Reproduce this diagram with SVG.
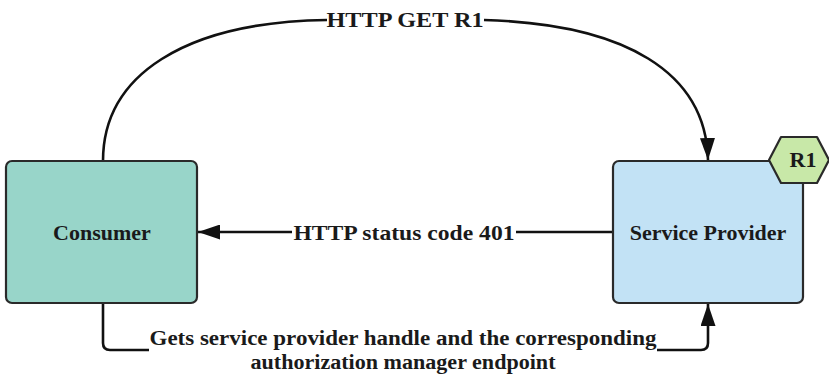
<svg xmlns="http://www.w3.org/2000/svg" width="829" height="376" viewBox="0 0 829 376">
<defs>
<marker id="arr" viewBox="0 0 22 15" refX="22" refY="7.5" markerWidth="22" markerHeight="15" markerUnits="userSpaceOnUse" orient="auto">
<path d="M0,0 L22,7.5 L0,15 Z" fill="#111"/>
</marker>
</defs>
<style>
text{font-family:"Liberation Serif","Times New Roman",serif;font-weight:bold;fill:#1a1a1a;font-size:22px}
.sm{font-size:20px}
.box{stroke:#2a2a2a;stroke-width:2.2}
.line{fill:none;stroke:#111;stroke-width:2.6}
.lbl{fill:#fff}
</style>
<rect width="829" height="376" fill="#fff"/>
<g id="connectors">
<path class="line" d="M103,161 C103,75 185,22 327,20"/>
<path class="line" d="M484,20 C625,24 706,72 708,160" marker-end="url(#arr)"/>
<text x="405" y="27" text-anchor="middle" textLength="157" lengthAdjust="spacingAndGlyphs">HTTP GET R1</text>
<path class="line" d="M613,232 H293"/>
<path class="line" d="M514,232 H198" marker-end="url(#arr)"/>
<rect class="lbl" x="292" y="220" width="224" height="24"/>
<text x="404" y="240" text-anchor="middle" textLength="221" lengthAdjust="spacingAndGlyphs">HTTP status code 401</text>
<path class="line" d="M103,303 V343 Q103,350 110,350 H149"/>
<path class="line" d="M657,350 H701 Q708,350 708,343 V304" marker-end="url(#arr)"/>
<text class="sm" x="403" y="345" text-anchor="middle" textLength="507" lengthAdjust="spacingAndGlyphs">Gets service provider handle and the corresponding</text>
<text class="sm" x="403" y="369" text-anchor="middle" textLength="305" lengthAdjust="spacingAndGlyphs">authorization manager endpoint</text>
</g>
<g id="consumer">
<rect class="box" x="6" y="161" width="191" height="142" rx="6" fill="#98D5C9"/>
<text x="102" y="240" text-anchor="middle">Consumer</text>
</g>
<g id="service-provider">
<rect class="box" x="613" y="161" width="190" height="142" rx="6" fill="#C2E2F5"/>
<text x="708" y="240" text-anchor="middle">Service Provider</text>
</g>
<g id="r1">
<polygon class="box" points="769,160 781,137 817,137 829,160 817,183 781,183" fill="#C8E8A8" stroke-linejoin="round"/>
<text x="803" y="167" text-anchor="middle">R1</text>
</g>
</svg>
